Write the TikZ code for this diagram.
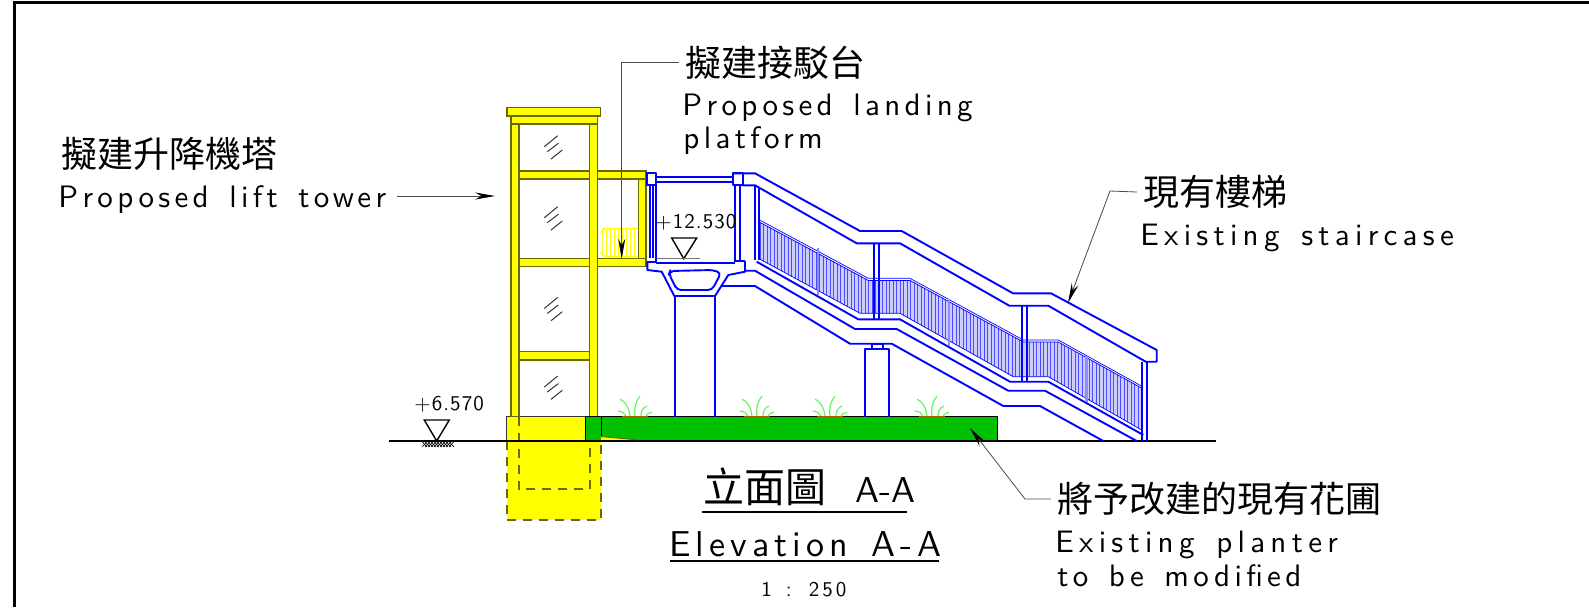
\documentclass[tikz,border=0pt]{standalone}
\usepackage{fontspec}
\newfontfamily\cjkfont{Noto Sans CJK TC}
\newfontfamily\cadwide[LetterSpace=14,WordSpace=1.4]{lmsans10-regular.otf}
\newfontfamily\cadwider[LetterSpace=17,WordSpace=1.4]{lmsans10-regular.otf}
\newfontfamily\cadlevel[LetterSpace=5]{lmsans10-regular.otf}
\newfontfamily\cadplain{lmsans10-regular.otf}
\usetikzlibrary{arrows.meta}
\definecolor{toweryellow}{RGB}{255,255,0}
\definecolor{towerline}{RGB}{105,105,0}
\definecolor{planter}{RGB}{0,192,0}
\definecolor{grass}{RGB}{100,245,100}
\tikzset{
    chitext/.style={anchor=west, inner ysep=0pt, inner xsep=3pt, font=\cjkfont\fontsize{18}{18}\selectfont},
    engtext/.style={anchor=base west, inner sep=0pt, font=\cadwide\fontsize{15.5}{15.5}\selectfont},
    widetext/.style={anchor=base west, inner sep=0pt, font=\cadwider\fontsize{15.5}{15.5}\selectfont},
    leveltext/.style={anchor=base west, inner sep=0pt, font=\cadlevel\fontsize{10.5}{10.5}\selectfont},
    towerpart/.style={fill=toweryellow, draw=towerline, line width=0.6pt},
    stair/.style={draw=blue, line width=0.95pt, line join=round},
    thinstair/.style={draw=blue, line width=0.35pt},
    leader/.style={draw=black!70, line width=0.4pt, -{Stealth[length=10pt,width=3.5pt,black]}},
    glassmark/.pic={
        \draw[line width=0.5pt, black!80] (0,11) -- (13.4,0) (3,16) -- (14,7.6) (6.7,23.3) -- (18,14.3);
    },
    tuft/.pic={
        \draw[grass, line width=0.6pt] (-5,0) .. controls (-6,-9) and (-10,-15) .. (-15,-17)
            (-9,0) .. controls (-10,-3) and (-13,-5) .. (-17,-5)
            (0,0) .. controls (-1,-9) and (1,-16) .. (5,-20)
            (6,0) .. controls (6,-5) and (8,-9) .. (12,-10)
            (11,0) .. controls (12,-2) and (14,-4) .. (17,-4);
        \draw[orange!70!black, line width=0.5pt] (-13,0) -- (13,0);
    },
}
\begin{document}
\begin{tikzpicture}[x=0.5pt, y=-0.5pt]
        \useasboundingbox (0,0) rectangle (1589,607);
        % ~~~~ Frame ~~~~ %
        \draw[line width=1.5pt] (14.5,607) -- (14.5,2) -- (1589,2);

        % ~~~~ Foundation ~~~~ %
        \fill[toweryellow] (506.7,416.7) rectangle (601,520.3);
        \draw[towerline, line width=1pt, dash pattern=on 4.5pt off 3.5pt] (506.7,441) -- (506.7,520.3) -- (601,520.3) -- (601,441);
        \draw[towerline, line width=1pt, dash pattern=on 4.5pt off 3.5pt] (518.7,416.7) -- (518.7,489.3) -- (590,489.3) -- (590,416.7);
        \draw[black!80, line width=0.5pt] (506.7,441) -- (506.7,416.7) -- (585.7,416.7);

        % ~~~~ Tower ~~~~ %
        \draw[towerpart] (511,124) rectangle (519,416.7);
        \draw[towerpart] (589.3,124) rectangle (597.3,416.7);
        \draw[towerpart] (511,116) rectangle (597.3,124);
        \draw[towerpart] (507,107.7) rectangle (600.7,116);
        \foreach \y in {171,258.7}
            \draw[towerpart] (519,\y) rectangle (589.3,\y+8);
        \draw[towerpart] (519,351.7) rectangle (589.3,360);
        \draw[towerpart] (597.3,171) rectangle (646,179);
        \draw[towerpart] (597.3,258.7) rectangle (646,266.7);
        \draw[towerpart] (638.3,179) rectangle (646,258.7);
        \foreach \y in {135.7,206.7,297.4,376}
            \pic at (544.3,\y) {glassmark};

        % ~~~~ Landing railing ~~~~ %
        \draw[toweryellow, line width=0.5pt, rounded corners=2pt] (638,228.3) -- (604,228.3) -- (602,231) -- (602,254) -- (604,256.7) -- (638,256.7);
        \foreach \x in {606,610,...,636}
            \draw[toweryellow, line width=0.4pt] (\x,228.3) -- (\x,256.7);

        % ~~~~ Planter ~~~~ %
        \draw[fill=planter, line width=0.5pt] (585.7,416.7) rectangle (601,441);
        \draw[fill=planter, line width=0.5pt] (601,416.7) rectangle (997.7,441);
        \fill[toweryellow] (601,436.5) -- (655,441.5) -- (601,441.5) -- cycle;
        \draw[towerline, line width=0.5pt] (601,436.5) -- (655,441.5);
        \foreach \x in {635,757,830,932}
            \pic at (\x,416.2) {tuft};

        % ~~~~ Ground ~~~~ %
        \draw[line width=0.6pt] (389,441) -- (1216,441);

        % ~~~~ Platform ~~~~ %
        \draw[stair] (647.3,173) rectangle (656,185);
        \draw[stair] (733,173) rectangle (742.7,185);
        \draw[stair] (656,177.3) -- (733,177.3) (656,181.7) -- (733,181.7);
        \draw[stair] (650,185) -- (650,258) (653.3,185) -- (653.3,258) (656,185) -- (656,262);
        \draw[stair] (735,185) -- (735,262) (740,185) -- (740,260);
        \draw[stair] (656,262.7) -- (735,262.7);
        \draw[stair] (647.3,261.7) -- (647.3,270) -- (661.7,271.7) -- (674.3,296) -- (715,296) -- (728.3,275) -- (745,271.7) -- (745,261);
        \draw[stair] (647.3,261.7) -- (656,261.7) (735,261) -- (745,261);
        \draw[stair] (722,286) -- (745,286);
        \draw[stair, rounded corners=2pt] (670,271) -- (713,270) -- (721,273) -- (712,290) -- (677,290) -- (669,274) -- cycle;
        \draw[stair] (675,296) -- (675,416.7) (715,296) -- (715,416.7);

        % ~~~~ Balustrade ~~~~ %
        \fill[blue!20] (758.3,221) -- (868.3,280) -- (910,280) -- (1023.3,342) -- (1058.3,342) -- (1142.7,388.5)
            -- (1141.7,430) -- (1048.3,376.7) -- (1013.3,376.7) -- (900,313.3) -- (860,313.3) -- (758.3,258.3) -- cycle;
        \begin{scope}
            \clip (758.3,221) -- (868.3,280) -- (910,280) -- (1023.3,342) -- (1058.3,342) -- (1142.7,388.5)
                -- (1141.7,430) -- (1048.3,376.7) -- (1013.3,376.7) -- (900,313.3) -- (860,313.3) -- (758.3,258.3) -- cycle;
            \foreach \x in {760,763.5,...,1142}
                \draw[blue!70, line width=0.45pt] (\x,210) -- (\x,435);
        \end{scope}
        \draw[thinstair] (758.3,219.3) -- (868.3,278.3) -- (910,278.3) -- (1023.3,340) -- (1058.3,340) -- (1142.7,386.7);
        \draw[thinstair] (758.3,221.5) -- (868.3,280.5) -- (910,280.5) -- (1023.3,342) -- (1058.3,342) -- (1142.7,388.7);
        \draw[thinstair] (758.3,258.3) -- (860,313.3) -- (900,313.3) -- (1013.3,376.7) -- (1048.3,376.7) -- (1141.7,430);

        % ~~~~ Stair ~~~~ %
        \draw[stair] (733,173.3) -- (755,173.3) -- (860,231) -- (901.7,231) -- (1013,293.3) -- (1051,293.3) -- (1156.7,350)
            -- (1156.7,361.7) -- (1145.7,361.7) -- (1048.3,305.7) -- (1009.3,305.7) -- (900,243.3) -- (856.7,243.3) -- (755,185.3) -- (742.7,185.3);
        \draw[stair] (755,185.3) -- (755,260) (759,187) -- (759,260);
        \draw[stair] (756.7,261.7) -- (858.3,319.3) -- (900,319.3) -- (1010,381.7) -- (1048.3,381.7) -- (1143.3,435);
        \draw[stair] (745,270.7) -- (755,270.7) -- (855,329) -- (896.7,329) -- (1008.3,390.7) -- (1045,390.7) -- (1136.7,441);
        \draw[stair] (745,286) -- (755,286) -- (850,343.7) -- (891.7,343.7) -- (1003.3,406) -- (1040,406) -- (1103.3,441);
        \foreach \x in {874.3,879.3}
            \draw[stair] (\x,243.3) -- (\x,319.3);
        \foreach \x in {1022.3,1027.3}
            \draw[stair] (\x,305.7) -- (\x,381.7);
        \foreach \x in {1141.7,1146.7}
            \draw[stair] (\x,361.7) -- (\x,441);
        \foreach \x/\a/\b in {818/248/295,949/299/346,1086.7/356/401.7}
            \draw[blue!45, line width=1.4pt] (\x,\a) -- (\x,\b);

        % ~~~~ Pier ~~~~ %
        \draw[stair] (865,416.7) -- (865,349) -- (889.3,349) -- (889.3,416.7);
        \draw[stair] (871.7,349) -- (871.7,344.3) -- (882.7,344.3) -- (882.7,349);

        % ~~~~ Levels ~~~~ %
        \draw[line width=0.7pt] (671.7,238) -- (696.7,238) -- (683.7,258.7) -- cycle;
        \draw[black!55, line width=0.7pt] (657,258.7) -- (700,258.7);
        \node[leveltext] (upperlevel) at (655,228) {+12.530};
        \draw[line width=0.7pt] (424.3,420) -- (449.3,420) -- (436.7,441) -- cycle;
        \foreach \x in {422,425,...,449}
            \draw[line width=0.3pt] (\x,447) -- (\x+5,441.5) (\x+5,447) -- (\x,441.5);
        \node[leveltext] (groundlevel) at (414,410.7) {+6.570};

        % ~~~~ Labels ~~~~ %
        \node[chitext] (lifttitle) at (55,154) {擬建升降機塔};
        \node[engtext] (liftname) at (58,207) {Proposed lift tower};
        \node[chitext] (landtitle) at (679,62.5) {擬建接駁台};
        \node[engtext] (landname) at (682,115) {Proposed landing};
        \node[engtext] (landnametwo) at (683,148) {platform};
        \node[chitext] (stairtitle) at (1137,192) {現有樓梯};
        \node[widetext] (stairname) at (1140,245) {Existing staircase};
        \node[chitext] (plantertitle) at (1051,499) {將予改建的現有花圃};
        \node[widetext] (plantername) at (1055,552.7) {Existing planter};
        \node[engtext] (planternametwo) at (1057,586.7) {to be modified};

        % ~~~~ Leaders ~~~~ %
        \coordinate (lifttip) at (495,196);
        \coordinate (landknee) at (621.7,62.5);
        \coordinate (landtip) at (621.7,258.7);
        \coordinate (stairknee) at (1110,191);
        \coordinate (stairtip) at (1068,303);
        \coordinate (planterknee) at (1025,499);
        \coordinate (plantertip) at (970,428);
        \draw[leader] (liftname.east |- lifttip) ++(10,0) -- (lifttip);
        \draw[leader] (landtitle.west) -- (landknee) -- (landtip);
        \draw[leader] (stairtitle.west) -- (stairknee) -- (stairtip);
        \draw[leader] (plantertitle.west) -- (planterknee) -- (plantertip);

        % ~~~~ Title ~~~~ %
        \node[chitext, font=\cjkfont\fontsize{20.5}{20.5}\selectfont] (viewtitle) at (697,486.5) {立面圖};
        \node[engtext, font=\cadplain\fontsize{18}{18}\selectfont] (viewmark) at (855,502) {A-A};
        \draw[line width=1pt] (702,512) -- (907,512);
        \node[engtext, font=\cadwide\fontsize{18}{18}\selectfont] (viewname) at (669,556) {Elevation A-A};
        \draw[line width=1pt] (670,561) -- (939,561);
        \node[engtext, font=\cadwide\fontsize{10.5}{10.5}\selectfont] (viewscale) at (761,596.7) {1 : 250};
    \end{tikzpicture}
\end{document}
